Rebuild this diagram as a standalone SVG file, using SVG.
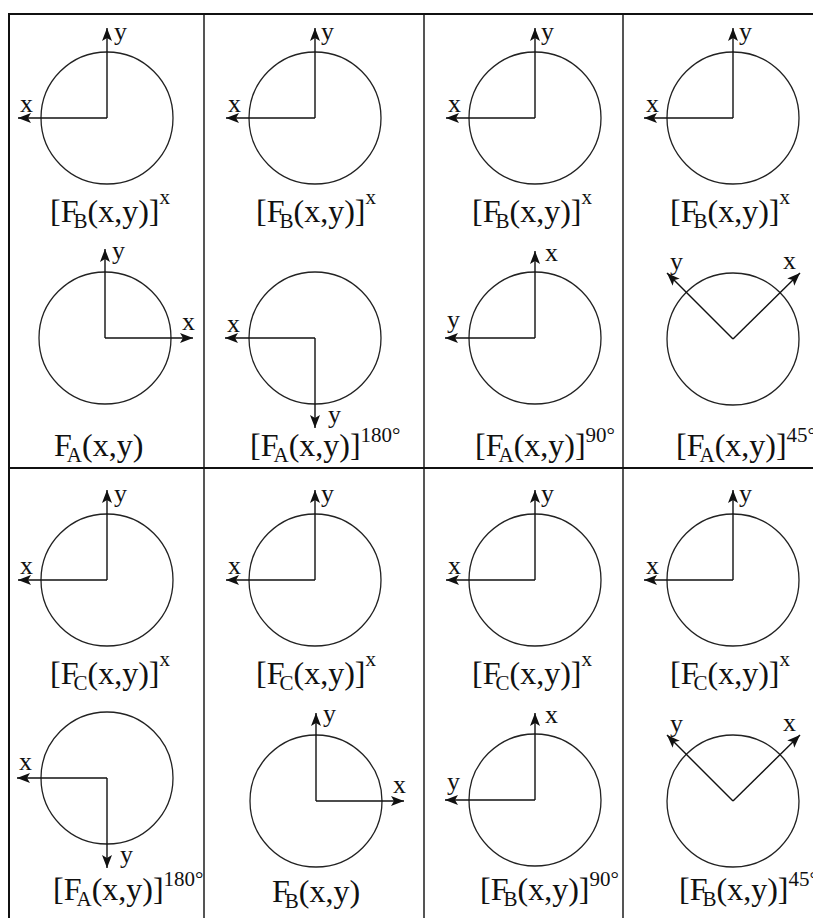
<svg xmlns="http://www.w3.org/2000/svg" width="813" height="918" viewBox="0 0 813 918">
<defs>
<style>
.c{fill:none;stroke:#222;stroke-width:1.3}
.ax{fill:none;stroke:#111;stroke-width:1.4;marker-end:url(#ah)}
.al{font-family:"Liberation Serif","Times New Roman",serif;font-size:26px;fill:#111}
.fl{font-family:"Liberation Serif","Times New Roman",serif;font-size:32px;fill:#111}
.sb{font-size:21px}
.sep{stroke:#555;stroke-width:2;fill:none}
.frame{stroke:#111;stroke-width:2;fill:none}
</style>
<marker id="ah" viewBox="-14 -6 15 12" refX="0" refY="0" markerWidth="15" markerHeight="12" markerUnits="userSpaceOnUse" orient="auto">
<path d="M0,0 L-13,-5 L-10,0 L-13,5 Z" fill="#111"/>
</marker>
</defs>
<rect width="813" height="918" fill="#fff"/>
<g id="grid">
<line class="sep" x1="204" y1="14" x2="204" y2="918"/>
<line class="sep" x1="424" y1="14" x2="424" y2="918"/>
<line class="sep" x1="623" y1="14" x2="623" y2="918"/>
<line class="frame" x1="9" y1="468" x2="813" y2="468"/>
<path class="frame" d="M9,918 V14 H813"/>
</g>

<!-- Row 1 -->
<g id="r1c1">
<g transform="translate(107,118)">
<circle r="66" class="c"/>
<line class="ax" x1="0" y1="0" x2="0" y2="-90"/>
<line class="ax" x1="0" y1="0" x2="-89" y2="0"/>
<text class="al" x="7" y="-78">y</text>
<text class="al" x="-87" y="-6">x</text>
</g>
<text class="fl" x="50" y="222">[F<tspan class="sb" dx="-5" dy="6">B</tspan><tspan dy="-6">(x,y)]</tspan><tspan class="sb" dy="-18">x</tspan></text>
</g>
<g id="r1c2">
<g transform="translate(315,118)">
<circle r="66" class="c"/>
<line class="ax" x1="0" y1="0" x2="0" y2="-90"/>
<line class="ax" x1="0" y1="0" x2="-89" y2="0"/>
<text class="al" x="6" y="-78">y</text>
<text class="al" x="-87" y="-6">x</text>
</g>
<text class="fl" x="256" y="222">[F<tspan class="sb" dx="-5" dy="6">B</tspan><tspan dy="-6">(x,y)]</tspan><tspan class="sb" dy="-18">x</tspan></text>
</g>
<g id="r1c3">
<g transform="translate(535,118)">
<circle r="66" class="c"/>
<line class="ax" x1="0" y1="0" x2="0" y2="-90"/>
<line class="ax" x1="0" y1="0" x2="-89" y2="0"/>
<text class="al" x="6" y="-78">y</text>
<text class="al" x="-87" y="-6">x</text>
</g>
<text class="fl" x="472" y="222">[F<tspan class="sb" dx="-5" dy="6">B</tspan><tspan dy="-6">(x,y)]</tspan><tspan class="sb" dy="-18">x</tspan></text>
</g>
<g id="r1c4">
<g transform="translate(733,118)">
<circle r="66" class="c"/>
<line class="ax" x1="0" y1="0" x2="0" y2="-90"/>
<line class="ax" x1="0" y1="0" x2="-89" y2="0"/>
<text class="al" x="6" y="-78">y</text>
<text class="al" x="-87" y="-6">x</text>
</g>
<text class="fl" x="670" y="222">[F<tspan class="sb" dx="-5" dy="6">B</tspan><tspan dy="-6">(x,y)]</tspan><tspan class="sb" dy="-18">x</tspan></text>
</g>

<!-- Row 2 -->
<g id="r2c1">
<g transform="translate(105,338)">
<circle r="66" class="c"/>
<line class="ax" x1="0" y1="0" x2="0" y2="-89"/>
<line class="ax" x1="0" y1="0" x2="88" y2="0"/>
<text class="al" x="7" y="-79">y</text>
<text class="al" x="77" y="-8">x</text>
</g>
<text class="fl" x="54" y="456">F<tspan class="sb" dx="-5" dy="6">A</tspan><tspan dy="-6">(x,y)</tspan></text>
</g>
<g id="r2c2">
<g transform="translate(315,338)">
<circle r="66" class="c"/>
<line class="ax" x1="0" y1="0" x2="-90" y2="0"/>
<line class="ax" x1="0" y1="0" x2="0" y2="90"/>
<text class="al" x="-88" y="-6">x</text>
<text class="al" x="13" y="85">y</text>
</g>
<text class="fl" x="250" y="456">[F<tspan class="sb" dx="-5" dy="6">A</tspan><tspan dy="-6">(x,y)]</tspan><tspan class="sb" dy="-14">180°</tspan></text>
</g>
<g id="r2c3">
<g transform="translate(535,338)">
<circle r="66" class="c"/>
<line class="ax" x1="0" y1="0" x2="0" y2="-87"/>
<line class="ax" x1="0" y1="0" x2="-90" y2="0"/>
<text class="al" x="10" y="-77">x</text>
<text class="al" x="-88" y="-10">y</text>
</g>
<text class="fl" x="475" y="456">[F<tspan class="sb" dx="-5" dy="6">A</tspan><tspan dy="-6">(x,y)]</tspan><tspan class="sb" dy="-14">90°</tspan></text>
</g>
<g id="r2c4">
<g transform="translate(733,339)">
<circle r="66" class="c"/>
<line class="ax" x1="0" y1="0" x2="-66" y2="-66"/>
<line class="ax" x1="0" y1="0" x2="67" y2="-66"/>
<text class="al" x="-63" y="-69">y</text>
<text class="al" x="50" y="-70">x</text>
</g>
<text class="fl" x="676" y="456">[F<tspan class="sb" dx="-5" dy="6">A</tspan><tspan dy="-6">(x,y)]</tspan><tspan class="sb" dy="-14">45°</tspan></text>
</g>

<!-- Row 3 -->
<g id="r3c1">
<g transform="translate(107,580)">
<circle r="66" class="c"/>
<line class="ax" x1="0" y1="0" x2="0" y2="-90"/>
<line class="ax" x1="0" y1="0" x2="-89" y2="0"/>
<text class="al" x="7" y="-78">y</text>
<text class="al" x="-87" y="-6">x</text>
</g>
<text class="fl" x="50" y="684">[F<tspan class="sb" dx="-5" dy="6">C</tspan><tspan dy="-6">(x,y)]</tspan><tspan class="sb" dy="-18">x</tspan></text>
</g>
<g id="r3c2">
<g transform="translate(315,580)">
<circle r="66" class="c"/>
<line class="ax" x1="0" y1="0" x2="0" y2="-90"/>
<line class="ax" x1="0" y1="0" x2="-89" y2="0"/>
<text class="al" x="6" y="-78">y</text>
<text class="al" x="-87" y="-6">x</text>
</g>
<text class="fl" x="256" y="684">[F<tspan class="sb" dx="-5" dy="6">C</tspan><tspan dy="-6">(x,y)]</tspan><tspan class="sb" dy="-18">x</tspan></text>
</g>
<g id="r3c3">
<g transform="translate(535,580)">
<circle r="66" class="c"/>
<line class="ax" x1="0" y1="0" x2="0" y2="-90"/>
<line class="ax" x1="0" y1="0" x2="-89" y2="0"/>
<text class="al" x="6" y="-78">y</text>
<text class="al" x="-87" y="-6">x</text>
</g>
<text class="fl" x="472" y="684">[F<tspan class="sb" dx="-5" dy="6">C</tspan><tspan dy="-6">(x,y)]</tspan><tspan class="sb" dy="-18">x</tspan></text>
</g>
<g id="r3c4">
<g transform="translate(733,580)">
<circle r="66" class="c"/>
<line class="ax" x1="0" y1="0" x2="0" y2="-90"/>
<line class="ax" x1="0" y1="0" x2="-89" y2="0"/>
<text class="al" x="6" y="-78">y</text>
<text class="al" x="-87" y="-6">x</text>
</g>
<text class="fl" x="670" y="684">[F<tspan class="sb" dx="-5" dy="6">C</tspan><tspan dy="-6">(x,y)]</tspan><tspan class="sb" dy="-18">x</tspan></text>
</g>

<!-- Row 4 -->
<g id="r4c1">
<g transform="translate(107,778)">
<circle r="66" class="c"/>
<line class="ax" x1="0" y1="0" x2="-90" y2="0"/>
<line class="ax" x1="0" y1="0" x2="0" y2="90"/>
<text class="al" x="-88" y="-8">x</text>
<text class="al" x="13" y="85">y</text>
</g>
<text class="fl" x="53" y="900">[F<tspan class="sb" dx="-5" dy="6">A</tspan><tspan dy="-6">(x,y)]</tspan><tspan class="sb" dy="-14">180°</tspan></text>
</g>
<g id="r4c2">
<g transform="translate(316,801)">
<circle r="66" class="c"/>
<line class="ax" x1="0" y1="0" x2="0" y2="-88"/>
<line class="ax" x1="0" y1="0" x2="88" y2="0"/>
<text class="al" x="7" y="-79">y</text>
<text class="al" x="77" y="-8">x</text>
</g>
<text class="fl" x="272" y="902">F<tspan class="sb" dx="-5" dy="6">B</tspan><tspan dy="-6">(x,y)</tspan></text>
</g>
<g id="r4c3">
<g transform="translate(535,800)">
<circle r="66" class="c"/>
<line class="ax" x1="0" y1="0" x2="0" y2="-87"/>
<line class="ax" x1="0" y1="0" x2="-90" y2="0"/>
<text class="al" x="10" y="-77">x</text>
<text class="al" x="-88" y="-10">y</text>
</g>
<text class="fl" x="480" y="900">[F<tspan class="sb" dx="-5" dy="6">B</tspan><tspan dy="-6">(x,y)]</tspan><tspan class="sb" dy="-14">90°</tspan></text>
</g>
<g id="r4c4">
<g transform="translate(733,801)">
<circle r="66" class="c"/>
<line class="ax" x1="0" y1="0" x2="-66" y2="-66"/>
<line class="ax" x1="0" y1="0" x2="67" y2="-66"/>
<text class="al" x="-63" y="-69">y</text>
<text class="al" x="50" y="-70">x</text>
</g>
<text class="fl" x="679" y="900">[F<tspan class="sb" dx="-5" dy="6">B</tspan><tspan dy="-6">(x,y)]</tspan><tspan class="sb" dy="-14">45°</tspan></text>
</g>
</svg>
